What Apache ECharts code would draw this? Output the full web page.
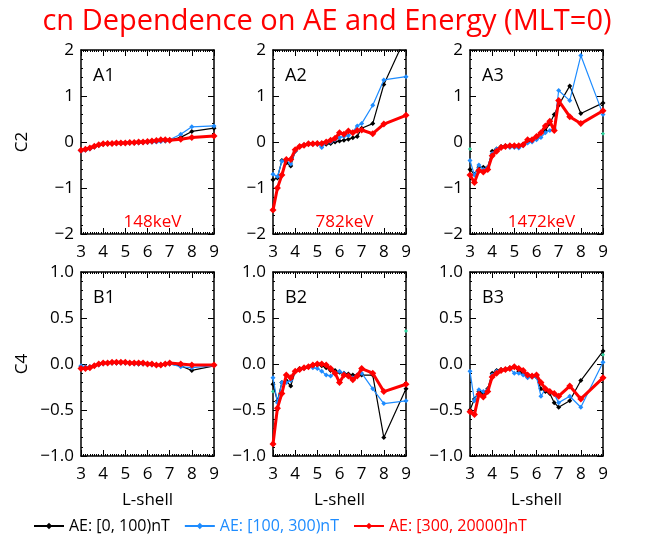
<!DOCTYPE html>
<html>
<head>
<meta charset="utf-8">
<script src="https://cdn.jsdelivr.net/npm/echarts@6/dist/echarts.min.js"></script>
<style>
  html, body { margin: 0; padding: 0; background: #fff; }
  #chart { width: 654px; height: 537px; }
</style>
</head>
<body>
<div id="chart"></div>
<script>
// L-shell grid shared by all panels
var L = [3.0,3.2,3.4,3.6,3.8,4.0,4.2,4.4,4.6,4.8,5.0,5.2,5.4,5.6,5.8,6.0,6.2,6.4,6.6,6.8,7.0,7.5,8.0,9.0];

// C2 (row A)
var a1Black = [-0.19,-0.17,-0.14,-0.11,-0.07,-0.05,-0.04,-0.03,-0.03,-0.02,-0.02,-0.02,-0.02,-0.01,-0.01,0.0,0.0,0.01,0.02,0.02,0.04,0.1,0.23,0.3];
var a1Blue  = [-0.2,-0.18,-0.15,-0.11,-0.07,-0.05,-0.04,-0.03,-0.03,-0.03,-0.02,-0.02,-0.02,-0.02,-0.01,-0.01,0.0,0.0,0.01,0.02,0.05,0.17,0.33,0.35];
var a1Red   = [-0.18,-0.16,-0.13,-0.09,-0.06,-0.04,-0.03,-0.03,-0.02,-0.02,-0.02,-0.01,-0.01,0.0,0.0,0.01,0.02,0.03,0.05,0.05,0.04,0.06,0.1,0.13];

var a2Black = [-0.82,-0.78,-0.4,-0.45,-0.52,-0.2,-0.1,-0.07,-0.05,-0.04,-0.04,-0.04,-0.05,-0.03,0.0,0.02,0.04,0.06,0.09,0.12,0.3,0.4,1.25,2.3];
var a2Blue  = [-0.7,-0.75,-0.42,-0.4,-0.48,-0.2,-0.1,-0.06,-0.05,-0.05,-0.05,-0.12,-0.02,0.0,0.05,0.1,0.12,0.14,0.22,0.35,0.4,0.8,1.35,1.42];
var a2Red   = [-1.48,-1.0,-0.72,-0.38,-0.38,-0.17,-0.1,-0.07,-0.04,-0.04,-0.03,-0.03,0.0,0.04,0.08,0.2,0.17,0.24,0.2,0.25,0.26,0.18,0.39,0.58];

var a3Black = [-0.6,-0.7,-0.55,-0.55,-0.55,-0.2,-0.15,-0.1,-0.08,-0.08,-0.1,-0.1,-0.05,0.0,0.05,0.1,0.2,0.25,0.4,0.6,0.8,1.22,0.62,0.85];
var a3Blue  = [-0.4,-0.72,-0.5,-0.6,-0.55,-0.25,-0.15,-0.12,-0.1,-0.12,-0.12,-0.13,-0.08,-0.02,0.0,0.05,0.1,0.2,0.25,0.3,1.12,0.9,1.88,0.6];
var a3Red   = [-0.72,-0.88,-0.62,-0.65,-0.6,-0.3,-0.2,-0.12,-0.1,-0.08,-0.08,-0.08,-0.06,0.05,0.05,0.12,0.2,0.35,0.45,0.25,0.9,0.55,0.4,0.68];

// C4 (row B)
var b1Black = [-0.03,-0.04,-0.03,-0.02,0.0,0.01,0.01,0.01,0.01,0.01,0.01,0.01,0.01,0.0,0.0,0.0,0.0,-0.01,-0.01,0.0,0.0,-0.02,-0.07,-0.02];
var b1Blue  = [-0.02,-0.03,-0.03,-0.02,-0.01,0.0,0.01,0.01,0.01,0.01,0.01,0.01,0.0,0.0,0.0,0.0,-0.01,-0.01,-0.01,0.0,0.0,-0.03,-0.04,-0.02];
var b1Red   = [-0.05,-0.05,-0.04,-0.02,0.0,0.01,0.01,0.02,0.02,0.02,0.02,0.01,0.01,0.01,0.01,0.0,0.0,-0.01,-0.01,0.0,0.01,0.0,-0.01,-0.01];

var b2Black = [-0.22,-0.4,-0.2,-0.18,-0.24,-0.08,-0.05,-0.04,-0.03,-0.02,-0.01,-0.02,-0.04,-0.07,-0.07,-0.09,-0.1,-0.11,-0.12,-0.12,-0.12,-0.12,-0.8,-0.27];
var b2Blue  = [-0.15,-0.42,-0.2,-0.2,-0.18,-0.08,-0.06,-0.05,-0.03,-0.04,-0.05,-0.08,-0.12,-0.13,-0.1,-0.08,-0.1,-0.13,-0.15,-0.12,-0.1,-0.27,-0.43,-0.4];
var b2Red   = [-0.87,-0.48,-0.32,-0.12,-0.15,-0.08,-0.06,-0.04,-0.03,-0.01,0.0,0.0,-0.01,-0.05,-0.1,-0.2,-0.12,-0.13,-0.17,-0.13,-0.05,-0.1,-0.3,-0.22];

var b3Black = [-0.5,-0.38,-0.3,-0.32,-0.27,-0.1,-0.07,-0.06,-0.06,-0.04,-0.03,-0.08,-0.1,-0.14,-0.14,-0.14,-0.27,-0.3,-0.32,-0.42,-0.47,-0.4,-0.18,0.14];
var b3Blue  = [-0.08,-0.4,-0.28,-0.3,-0.28,-0.12,-0.08,-0.07,-0.06,-0.05,-0.1,-0.1,-0.12,-0.15,-0.14,-0.14,-0.35,-0.27,-0.3,-0.33,-0.42,-0.35,-0.47,0.02];
var b3Red   = [-0.52,-0.55,-0.33,-0.36,-0.3,-0.14,-0.1,-0.07,-0.06,-0.05,-0.03,-0.05,-0.07,-0.12,-0.13,-0.12,-0.2,-0.27,-0.3,-0.32,-0.35,-0.24,-0.38,-0.15];

// stray teal points at the panel edges
var tealL  = [3.0, 9.0];
var tealA3 = [-0.15, 0.18];
var tealB2 = [-0.3, 0.36];
var tealB3 = [null, 0.1];

var panelNames = ['A1','A2','A3','B1','B2','B3'];
var energies = ['148keV','782keV','1472keV'];
var seriesNames = ['AE: [0, 100)nT','AE: [100, 300)nT','AE: [300, 20000]nT'];

var FONT = 'Open Sans';
var colors = ['#000000','#1e8cff','#ff0000'];
var teal = '#2fd6a0';

var panelData = [
    [a1Black,a1Blue,a1Red],[a2Black,a2Blue,a2Red],[a3Black,a3Blue,a3Red],
    [b1Black,b1Blue,b1Red],[b2Black,b2Blue,b2Red],[b3Black,b3Blue,b3Red]
];
var tealData = [null,null,tealA3,null,tealB2,tealB3];

function pairs(xs, ys){
    var out = [];
    for(var i=0;i<xs.length;i++){
        if(ys[i] !== null) out.push([xs[i], ys[i]]);
    }
    return out;
}

var lefts = [81, 273, 470];
var tops = [50, 272];
var W = 133, H = 184;

var grids=[], xAxes=[], yAxes=[], series=[], titles=[];

titles.push({
    text:'cn Dependence on AE and Energy (MLT=0)',
    left:'center', top:2,
    textStyle:{color:'#ff0000', fontSize:29, fontWeight:'normal', fontFamily:FONT}
});

for(var p=0;p<6;p++){
    var row = p<3?0:1, col = p%3;
    var isA = row===0;
    grids.push({left:lefts[col], top:tops[row], width:W, height:H});
    var lineStyle = {color:'#000', width:1.5};
    var xBase = {
        type:'value', gridIndex:p, min:3, max:9, interval:1,
        axisLine:{onZero:false, lineStyle:lineStyle},
        axisTick:{inside:true, length:6, lineStyle:{color:'#000'}},
        minorTick:{show:true, splitNumber:10, length:2, lineStyle:{color:'#000'}},
        splitLine:{show:false}
    };
    xAxes.push(Object.assign({}, xBase, {
        position:'bottom',
        axisLabel:{fontSize:17, color:'#000', margin:10, fontFamily:FONT},
        name: isA?'':'L-shell', nameLocation:'middle', nameGap:36,
        nameTextStyle:{fontSize:17, color:'#000', fontFamily:FONT}
    }));
    xAxes.push(Object.assign({}, xBase, {position:'top', axisLabel:{show:false}}));

    var yBase = {
        type:'value', gridIndex:p,
        min:isA?-2:-1, max:isA?2:1, interval:isA?1:0.5,
        axisLine:{onZero:false, lineStyle:lineStyle},
        axisTick:{inside:true, length:6, lineStyle:{color:'#000'}},
        minorTick:{show:true, splitNumber:5, length:2, lineStyle:{color:'#000'}},
        splitLine:{show:false}
    };
    yAxes.push(Object.assign({}, yBase, {
        position:'left',
        axisLabel:{fontSize:17, color:'#000', margin:7, fontFamily:FONT,
            formatter:(function(a){ return function(v){
                var s = a ? String(Math.round(v)) : v.toFixed(1);
                return s.replace('-', '\u2212');
            };})(isA)},
        name: col===0 ? (isA?'C2':'C4') : '', nameLocation:'middle', nameGap:50,
        nameTextStyle:{fontSize:17, color:'#000', fontFamily:FONT}
    }));
    yAxes.push(Object.assign({}, yBase, {position:'right', axisLabel:{show:false}}));

    for(var s=0;s<3;s++){
        series.push({
            name:seriesNames[s], type:'line',
            xAxisIndex:2*p, yAxisIndex:2*p,
            data:pairs(L, panelData[p][s]),
            symbol:'diamond', symbolSize:s===2?7:5,
            showAllSymbol:true,
            lineStyle:{color:colors[s], width:s===2?3:1.2},
            itemStyle:{color:colors[s]},
            z:2+s, animation:false, clip:true
        });
    }
    if(tealData[p]){
        series.push({
            name:'teal', type:'line',
            xAxisIndex:2*p, yAxisIndex:2*p,
            data:pairs(tealL, tealData[p]),
            symbol:'diamond', symbolSize:4,
            lineStyle:{width:0}, itemStyle:{color:teal},
            z:1, animation:false
        });
    }

    titles.push({
        text:panelNames[p], left:lefts[col]+7, top:tops[row]+12,
        textStyle:{fontSize:18, fontWeight:'normal', color:'#000', fontFamily:FONT}
    });
    if(isA){
        titles.push({
            text:energies[col], left:lefts[col]+W/2, top:tops[row]+H-25, textAlign:'center',
            textStyle:{fontSize:17, fontWeight:'normal', color:'#ff0000', fontFamily:FONT}
        });
    }
}

var myChart = echarts.init(document.getElementById('chart'));
var option = {
    backgroundColor:'#fff',
    animation:false,
    title:titles,
    legend:{
        left:28, top:513, itemWidth:30, itemHeight:8, itemGap:14,
        textStyle:{fontSize:16, fontFamily:FONT},
        data:[
            {name:seriesNames[0], textStyle:{color:colors[0]}},
            {name:seriesNames[1], textStyle:{color:colors[1]}},
            {name:seriesNames[2], textStyle:{color:colors[2]}}
        ]
    },
    grid:grids,
    xAxis:xAxes,
    yAxis:yAxes,
    series:series
};
myChart.setOption(option);
</script>
</body>
</html>
